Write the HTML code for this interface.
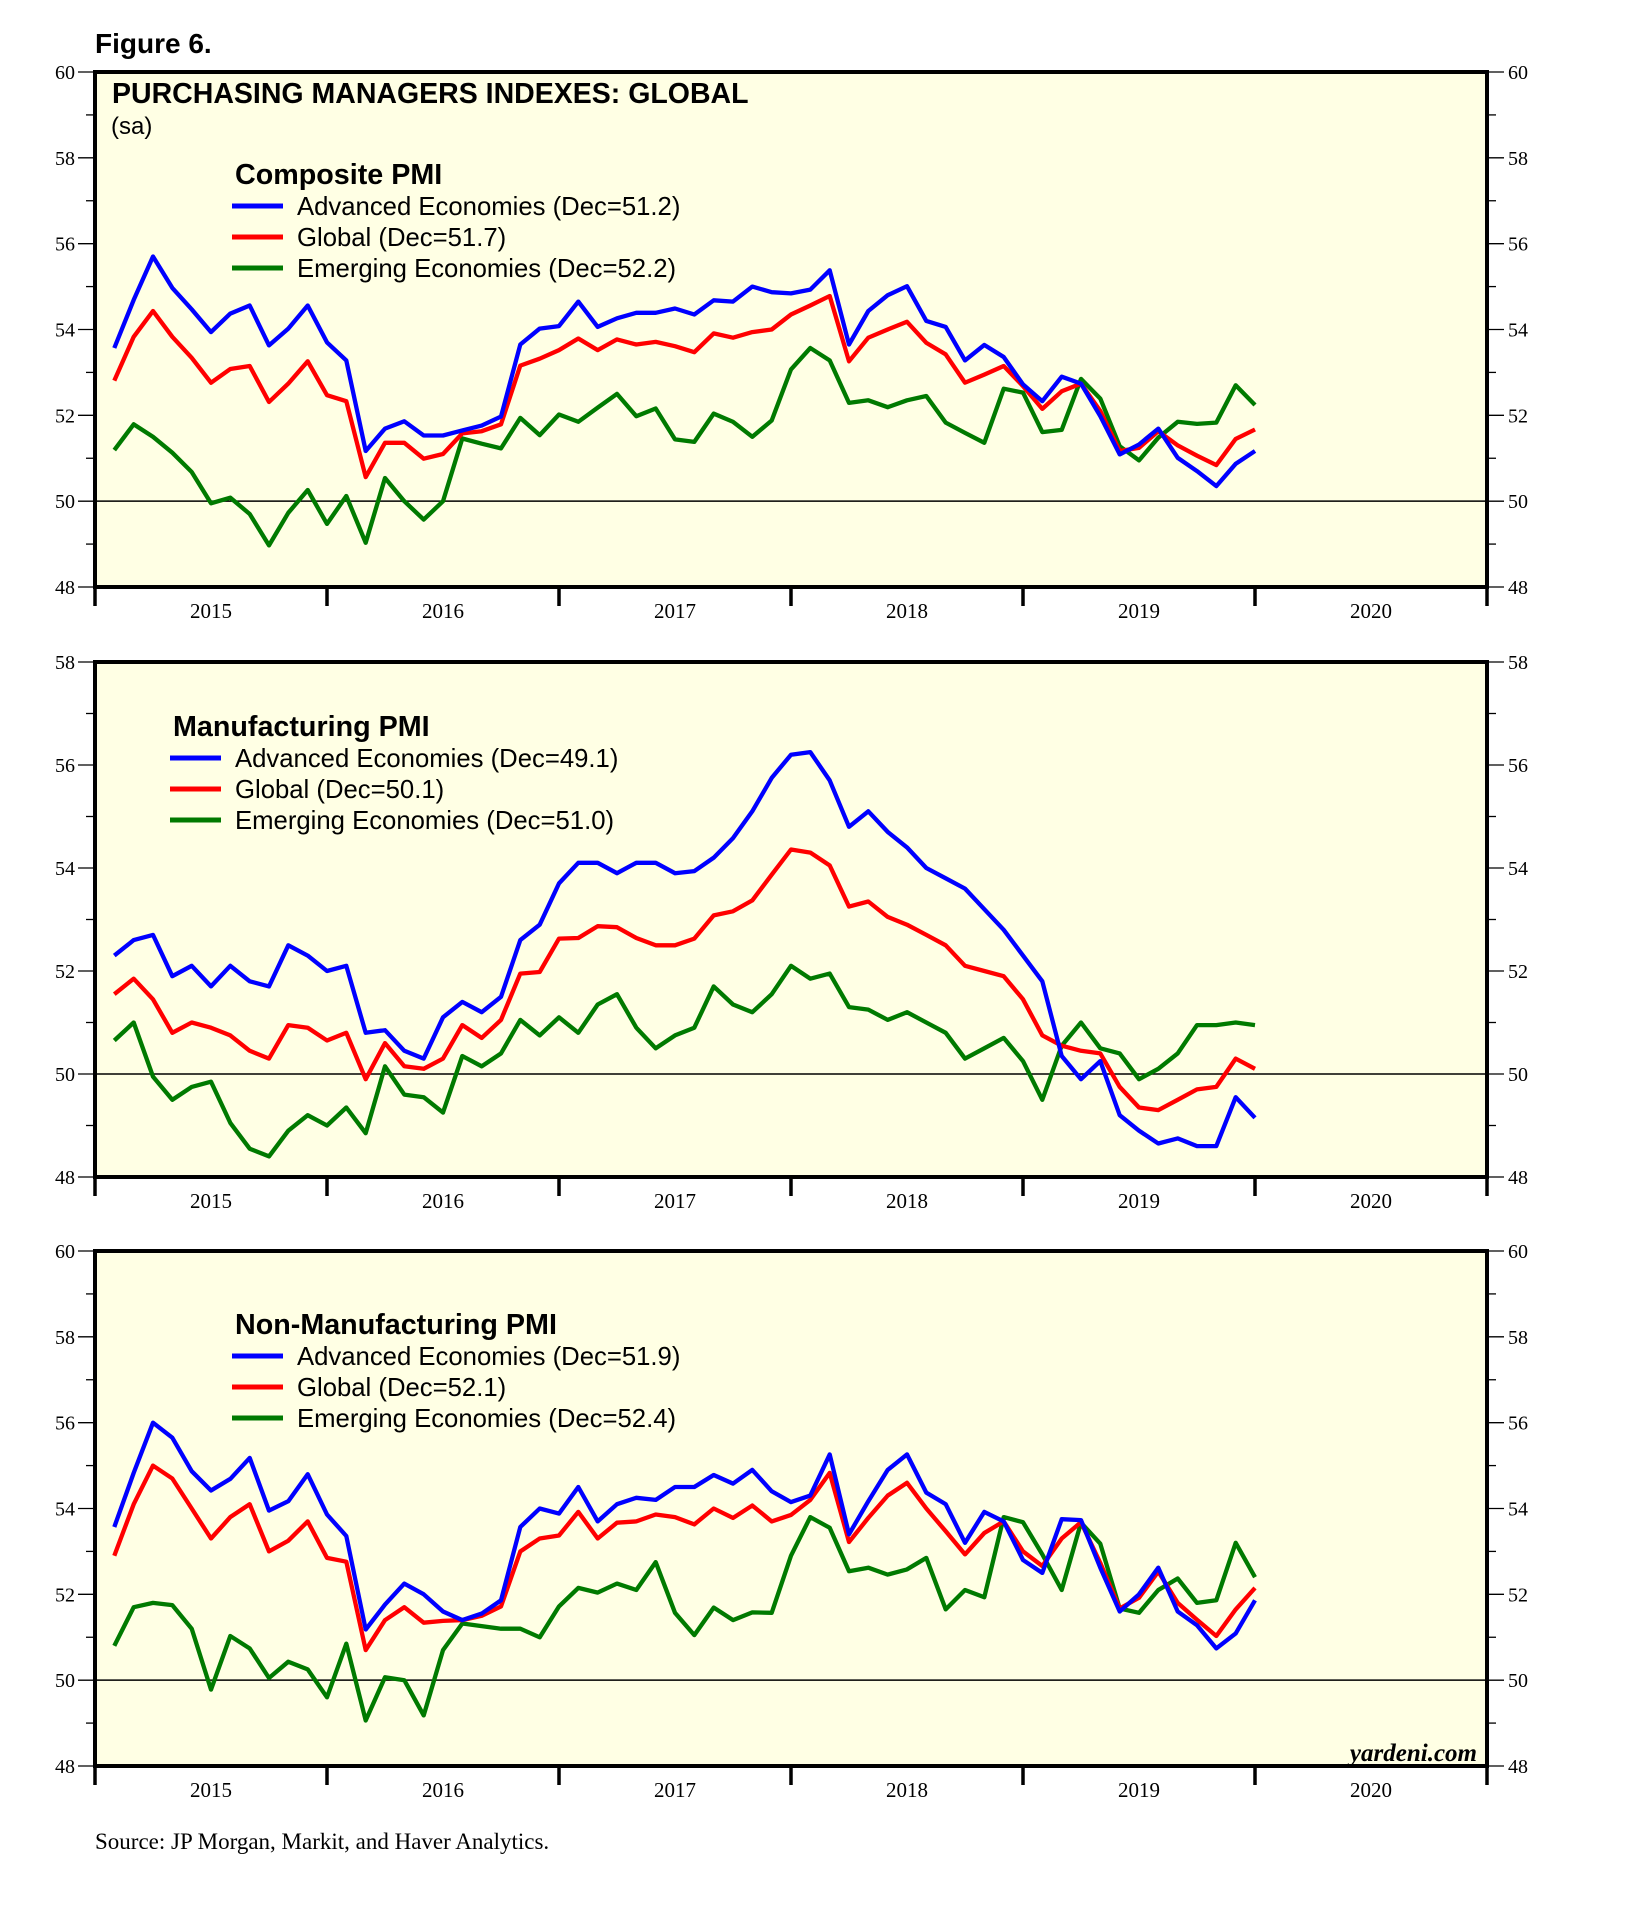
<!DOCTYPE html>
<html><head><meta charset="utf-8"><style>
html,body{margin:0;padding:0;background:#fff;}
svg{display:block;}
</style></head><body>
<svg id="chart" width="1631" height="1912" viewBox="0 0 1631 1912" xmlns="http://www.w3.org/2000/svg">
<text x="95" y="53" font-family="Liberation Sans, sans-serif" font-weight="bold" font-size="28">Figure 6.</text>
<text x="95" y="1849" font-family="Liberation Serif, serif" font-size="23">Source: JP Morgan, Markit, and Haver Analytics.</text>
</svg>
<script>
const years = ['2015','2016','2017','2018','2019','2020'];
const compAdv = [53.57,54.69,55.7,54.97,54.47,53.94,54.37,54.56,53.63,54.02,54.56,53.7,53.28,51.17,51.69,51.86,51.53,51.53,51.65,51.76,51.97,53.65,54.02,54.08,54.65,54.06,54.26,54.39,54.39,54.49,54.35,54.68,54.65,55.0,54.87,54.84,54.93,55.38,53.65,54.43,54.8,55.01,54.2,54.06,53.28,53.64,53.36,52.72,52.33,52.9,52.74,51.98,51.09,51.32,51.69,51.01,50.7,50.35,50.87,51.17];
const compGlb = [52.81,53.83,54.43,53.83,53.34,52.76,53.08,53.15,52.31,52.74,53.26,52.47,52.33,50.56,51.36,51.36,50.99,51.1,51.58,51.63,51.79,53.16,53.32,53.52,53.79,53.52,53.77,53.65,53.71,53.61,53.47,53.91,53.81,53.94,54.0,54.35,54.56,54.78,53.26,53.81,54.0,54.18,53.69,53.42,52.76,52.95,53.15,52.68,52.15,52.56,52.74,52.1,51.17,51.24,51.63,51.3,51.06,50.84,51.45,51.67];
const compEm = [51.19,51.79,51.5,51.13,50.68,49.95,50.08,49.7,48.97,49.73,50.26,49.47,50.12,49.03,50.54,50.0,49.57,50.0,51.46,51.34,51.23,51.94,51.54,52.02,51.85,52.18,52.5,51.98,52.16,51.44,51.38,52.04,51.85,51.5,51.88,53.07,53.57,53.28,52.29,52.35,52.19,52.35,52.45,51.83,51.59,51.36,52.62,52.53,51.61,51.66,52.85,52.39,51.28,50.95,51.48,51.85,51.8,51.83,52.7,52.24];
const mfgAdv = [52.3,52.6,52.7,51.9,52.1,51.7,52.1,51.8,51.7,52.5,52.3,52.0,52.1,50.8,50.85,50.45,50.3,51.1,51.4,51.2,51.5,52.6,52.9,53.7,54.1,54.1,53.9,54.1,54.1,53.9,53.94,54.2,54.58,55.1,55.75,56.2,56.25,55.7,54.8,55.1,54.7,54.4,54.0,53.8,53.6,53.2,52.8,52.3,51.8,50.35,49.9,50.25,49.2,48.9,48.65,48.75,48.6,48.6,49.55,49.15];
const mfgGlb = [51.55,51.85,51.45,50.8,51.0,50.9,50.75,50.45,50.3,50.95,50.9,50.65,50.8,49.9,50.6,50.15,50.1,50.3,50.95,50.7,51.05,51.95,51.98,52.63,52.64,52.87,52.85,52.64,52.5,52.5,52.63,53.08,53.16,53.37,53.87,54.36,54.3,54.05,53.25,53.35,53.05,52.9,52.7,52.5,52.1,52.0,51.9,51.45,50.75,50.55,50.45,50.4,49.75,49.35,49.3,49.5,49.7,49.75,50.3,50.1];
const mfgEm = [50.65,51.0,49.95,49.5,49.75,49.85,49.05,48.55,48.4,48.9,49.2,49.0,49.35,48.85,50.15,49.6,49.55,49.25,50.35,50.15,50.4,51.05,50.75,51.1,50.8,51.35,51.55,50.9,50.5,50.75,50.9,51.7,51.35,51.2,51.55,52.1,51.85,51.95,51.3,51.25,51.05,51.2,51.0,50.8,50.3,50.5,50.7,50.25,49.5,50.55,51.0,50.5,50.4,49.9,50.1,50.4,50.95,50.95,51.0,50.95];
const nonAdv = [53.57,54.83,56.0,55.65,54.87,54.42,54.69,55.18,53.95,54.17,54.8,53.86,53.36,51.18,51.76,52.25,52.0,51.6,51.4,51.55,51.86,53.57,54.0,53.88,54.5,53.7,54.1,54.25,54.2,54.5,54.5,54.78,54.58,54.9,54.4,54.15,54.3,55.26,53.4,54.17,54.9,55.26,54.37,54.1,53.2,53.92,53.7,52.8,52.5,53.75,53.73,52.62,51.6,52.0,52.62,51.6,51.28,50.74,51.09,51.86];
const nonGlb = [52.9,54.1,55.0,54.7,54.0,53.3,53.8,54.1,53.0,53.25,53.7,52.85,52.76,50.7,51.4,51.7,51.34,51.38,51.4,51.5,51.72,53.0,53.3,53.37,53.92,53.3,53.67,53.7,53.86,53.8,53.63,54.0,53.78,54.07,53.7,53.85,54.2,54.83,53.22,53.78,54.3,54.6,54.0,53.47,52.93,53.43,53.7,53.0,52.66,53.3,53.68,52.73,51.67,51.92,52.53,51.8,51.41,51.03,51.65,52.15];
const nonEm = [50.8,51.7,51.8,51.75,51.2,49.78,51.03,50.74,50.05,50.43,50.25,49.6,50.85,49.06,50.07,50.0,49.18,50.7,51.32,51.26,51.2,51.2,51.0,51.72,52.15,52.04,52.25,52.1,52.75,51.57,51.05,51.69,51.4,51.58,51.57,52.9,53.8,53.55,52.54,52.62,52.46,52.58,52.85,51.65,52.1,51.93,53.8,53.68,52.93,52.1,53.67,53.18,51.67,51.57,52.1,52.37,51.8,51.86,53.2,52.4];
const compLabels = ['Advanced Economies (Dec=51.2)','Global (Dec=51.7)','Emerging Economies (Dec=52.2)'];
const mfgLabels = ['Advanced Economies (Dec=49.1)','Global (Dec=50.1)','Emerging Economies (Dec=51.0)'];
const nonLabels = ['Advanced Economies (Dec=51.9)','Global (Dec=52.1)','Emerging Economies (Dec=52.4)'];

const NS='http://www.w3.org/2000/svg';
const svg=document.getElementById('chart');
const X0=95, X1=1487, YW=(X1-X0)/6;
const COLORS=['#0000ff','#ff0000','#007a00'];
function mk(tag,attrs,parent){const e=document.createElementNS(NS,tag);for(const k in attrs)e.setAttribute(k,attrs[k]);(parent||svg).appendChild(e);return e;}
function xOf(i){return X0+(i+1)*YW/12;}

function panel(key,top,bot,ymin,ymax,title,series,labels,legX,legY){
  const g=mk('g',{});
  
  
  const yOf=v=>bot-(v-ymin)*(bot-top)/(ymax-ymin);
  const bg=mk('rect',{x:X0,y:top,width:X1-X0,height:bot-top,fill:'#ffffe4'},g);
  
  
  for(let v=ymin;v<=ymax;v++){
    const y=yOf(v),major=(v%2===0);
    const len=major?17:9;
    const tl=mk('line',{x1:X0-len,x2:X0,y1:y,y2:y,stroke:'#000','stroke-width':1.3},g);
    
    
    const tr=mk('line',{x1:X1,x2:X1+len,y1:y,y2:y,stroke:'#000','stroke-width':1.3},g);
    
    
    if(major){
      const a=mk('text',{x:X0-20,y:y+7,'text-anchor':'end','font-family':'Liberation Serif, serif','font-size':20},g);
      a.textContent=v;
      
      
      const b=mk('text',{x:X1+21,y:y+7,'font-family':'Liberation Serif, serif','font-size':20},g);
      b.textContent=v;
      
      
    }
  }
  const ref=mk('line',{x1:X0,x2:X1,y1:yOf(50),y2:yOf(50),stroke:'#000','stroke-width':1.5},g);
  
  
  for(let k=0;k<=6;k++){
    const x=X0+k*YW;
    const t=mk('line',{x1:x,x2:x,y1:bot,y2:bot+19,stroke:'#000','stroke-width':3.5},g);
    
    
  }
  years.forEach((yr,k)=>{
    const t=mk('text',{x:X0+(k+0.5)*YW,y:bot+31,'text-anchor':'middle','font-family':'Liberation Serif, serif','font-size':21},g);
    t.textContent=yr;
    
    
  });
  const names=['advanced','global','emerging'];
  [2,1,0].forEach(s=>{
    const d=series[s].map((v,i)=>(i?'L':'M')+xOf(i).toFixed(1)+' '+yOf(v).toFixed(1)).join(' ');
    const p=mk('path',{d:d,fill:'none',stroke:COLORS[s],'stroke-width':4.3,'stroke-linejoin':'round'},g);
    
    
  });
  const br=mk('rect',{x:X0,y:top,width:X1-X0,height:bot-top,fill:'none',stroke:'#000','stroke-width':4},g);
  
  
  const tt=mk('text',{x:legX+3,y:legY,'font-family':'Liberation Sans, sans-serif','font-weight':'bold','font-size':28.7},g);
  tt.textContent=title;
  
  
  labels.forEach((lb,s)=>{
    const ly=legY+22+s*31;
    const ln=mk('line',{x1:legX,x2:legX+51,y1:ly,y2:ly,stroke:COLORS[s],'stroke-width':5},g);
    
    
    const tx=mk('text',{x:legX+65,y:ly+9,'font-family':'Liberation Sans, sans-serif','font-size':25.7},g);
    tx.textContent=lb;
    
    
  });
}
panel('composite',72,587,48,60,'Composite PMI',[compAdv,compGlb,compEm],compLabels,232,184);
panel('manufacturing',662,1177,48,58,'Manufacturing PMI',[mfgAdv,mfgGlb,mfgEm],mfgLabels,170,736);
panel('nonmanufacturing',1251,1766,48,60,'Non-Manufacturing PMI',[nonAdv,nonGlb,nonEm],nonLabels,232,1334);

const t1=mk('text',{x:112,y:103,'font-family':'Liberation Sans, sans-serif','font-weight':'bold','font-size':28.5});
t1.textContent='PURCHASING MANAGERS INDEXES: GLOBAL';


const t2=mk('text',{x:111,y:134,'font-family':'Liberation Sans, sans-serif','font-size':24});
t2.textContent='(sa)';


const t3=mk('text',{x:1477,y:1761,'text-anchor':'end','font-family':'Liberation Serif, serif','font-weight':'bold','font-style':'italic','font-size':25});
t3.textContent='yardeni.com';


</script>
</body></html>
